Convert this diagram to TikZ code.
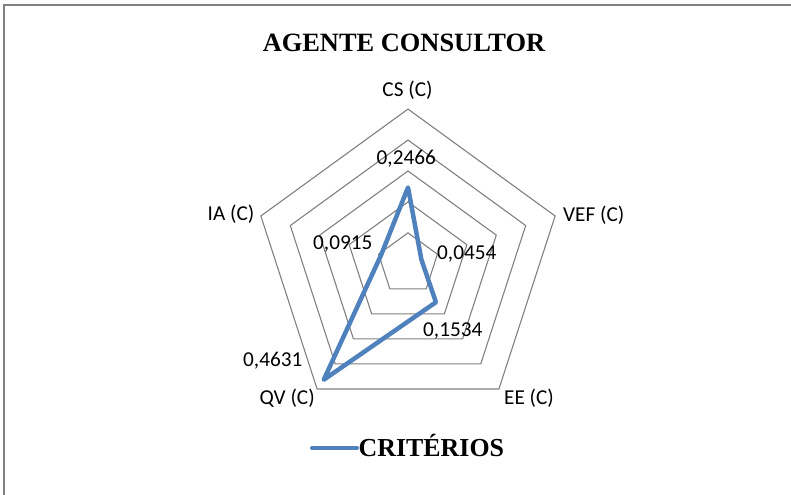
\documentclass[tikz,border=0pt]{standalone}
\usepackage{fontspec}
\usetikzlibrary{calc}
\setmainfont{Liberation Serif}
\newfontfamily\labelfont{Carlito}
\definecolor{seriesblue}{RGB}{79,129,189}
\definecolor{gridgray}{RGB}{128,128,128}
\definecolor{framegray}{RGB}{128,128,128}
\begin{document}
\begin{tikzpicture}[x=1bp,y=1bp,
  gridline/.style={draw=gridgray,line width=1.1bp},
  series/.style={draw=seriesblue,line width=4.5bp,line join=round},
  axislabel/.style={inner sep=0pt,font=\labelfont\fontsize{21.3}{25}\selectfont},
  valuelabel/.style={inner sep=0pt,font=\labelfont\fontsize{21.3}{25}\selectfont},
  headline/.style={inner sep=0pt,font=\bfseries\fontsize{26.5}{30}\selectfont},
  legendtext/.style={inner sep=0pt,font=\bfseries\fontsize{26}{30}\selectfont}]
\useasboundingbox (0,0) rectangle (791,495);
% chart frame (top and left edges)
\draw[draw=framegray,line width=2bp] (4,0) -- (4,490) -- (791,490);
% title
\node[headline,anchor=base] (title) at (404,443) {AGENTE CONSULTOR};
% radar grid: five concentric pentagons
\coordinate (c) at (408,231.2);
\foreach \k in {1,...,5}{
  \draw[gridline] ($(c)+(90:\k*30.94)$) -- ($(c)+(18:\k*30.94)$) -- ($(c)+(-54:\k*30.94)$)
    -- ($(c)+(-126:\k*30.94)$) -- ($(c)+(162:\k*30.94)$) -- cycle;
}
% data points (scale: 0.5 at radius 154.7)
\coordinate (pcs) at ($(c)+(90:76.3)$);
\coordinate (pvef) at ($(c)+(18:14.05)$);
\coordinate (pee) at ($(c)+(-54:47.5)$);
\coordinate (pqv) at ($(c)+(-126:143.3)$);
\coordinate (pia) at ($(c)+(162:28.3)$);
\draw[series] (pcs) -- (pvef) -- (pee) -- (pqv) -- (pia) -- cycle;
% axis labels
\node[axislabel,anchor=base] (lcs) at (407.5,398) {CS (C)};
\node[axislabel,anchor=base west] (lvef) at (563,273.3) {VEF (C)};
\node[axislabel,anchor=base west] (lee) at (504,90) {EE (C)};
\node[axislabel,anchor=base west] (lqv) at (259.5,90) {QV (C)};
\node[axislabel,anchor=base west] (lia) at (207.5,274) {IA (C)};
% value labels
\node[valuelabel,anchor=base west] (vcs) at (376.5,330) {0,2466};
\node[valuelabel,anchor=base west] (vvef) at (437,235) {0,0454};
\node[valuelabel,anchor=base west] (vee) at (423,158) {0,1534};
\node[valuelabel,anchor=base west] (vqv) at (243,128) {0,4631};
\node[valuelabel,anchor=base west] (via) at (313,245) {0,0915};
% legend
\coordinate (lg1) at (312,47);
\coordinate (lg2) at (357,47);
\draw[draw=seriesblue,line width=4bp,line cap=round] (lg1) -- (lg2);
\node[legendtext,anchor=base west] (legend) at (358.5,38.3) {CRITÉRIOS};
\end{tikzpicture}
\end{document}
